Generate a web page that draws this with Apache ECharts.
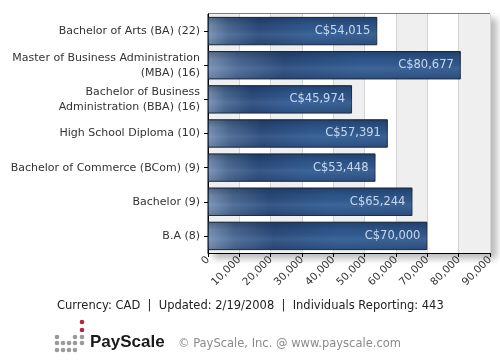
<!DOCTYPE html>
<html><head><meta charset="utf-8">
<script src="https://cdn.jsdelivr.net/npm/echarts@6/dist/echarts.min.js"></script>
<style>html,body{margin:0;padding:0;background:#fff}#c{width:500px;height:360px}</style>
</head><body><div id="c"></div>
<script>
const categories = [
  'Bachelor of Arts (BA) (22)',
  'Master of Business Administration\n(MBA) (16)',
  'Bachelor of Business\nAdministration (BBA) (16)',
  'High School Diploma (10)',
  'Bachelor of Commerce (BCom) (9)',
  'Bachelor (9)',
  'B.A (8)'
];
const salaries = [54015, 80677, 45974, 57391, 53448, 65244, 70000];
const xTicks = [0, 10000, 20000, 30000, 40000, 50000, 60000, 70000, 80000, 90000];
const footerText = 'Currency: CAD  |  Updated: 2/19/2008  |  Individuals Reporting: 443';
const copyrightText = '\u00A9 PayScale, Inc. @ www.payscale.com';
const logoText = 'PayScale';

const font = '"DejaVu Sans", Verdana, sans-serif';
const chart = echarts.init(document.getElementById('c'), null, {renderer: 'canvas'});

const dots = [];
const gray = '#9a9a9a', red = '#b0263a';
[[82,322,red],[82,330,red],
 [57,337,gray],[75,337,gray],[82,337,gray],
 [57,343,gray],[63,343,gray],[69,343,gray],[75,343,gray],[82,343,gray],
 [57,350,gray],[63,350,gray],[69,350,gray],[75,350,gray]
].forEach(d => dots.push({type:'circle', shape:{cx:d[0], cy:d[1], r:2.3}, style:{fill:d[2]}, silent:true}));

chart.setOption({
  animation: false,
  grid: {
    left: 208, right: 10, top: 14, bottom: 107,
    show: true, backgroundColor: '#fff', borderColor: '#000', borderWidth: 1,
    shadowColor: 'rgba(0,0,0,0.28)', shadowBlur: 7, shadowOffsetX: 6, shadowOffsetY: 5
  },
  xAxis: {
    type: 'value', min: 0, max: 90000, interval: 10000,
    axisLine: {show: true, lineStyle: {color: '#000', width: 1}},
    axisTick: {show: true, length: 4, lineStyle: {color: '#000'}},
    axisLabel: {
      rotate: 45, fontSize: 10.5, color: '#333', fontFamily: font, margin: 5,
      formatter: v => xTicks.includes(v) ? v.toLocaleString('en-US') : ''
    },
    splitLine: {show: true, lineStyle: {color: '#d4d4d4', width: 1}},
    splitArea: {show: true, areaStyle: {color: ['#efefef', '#ffffff']}}
  },
  yAxis: {
    type: 'category', data: categories, inverse: true,
    axisLine: {show: true, lineStyle: {color: '#000', width: 1}},
    axisTick: {show: true, length: 4, alignWithLabel: true, lineStyle: {color: '#000'}},
    axisLabel: {fontSize: 11, color: '#333', fontFamily: font, margin: 8, lineHeight: 15, align: 'right'},
    splitLine: {show: true, alignWithLabel: true, lineStyle: {color: '#cfcfcf', width: 1}}
  },
  series: [{
    type: 'bar', data: salaries, barWidth: '83%',
    itemStyle: {
      borderColor: '#1b2c46', borderWidth: 1,
      color: {type: 'linear', x: 0, y: 0, x2: 1, y2: 0, colorStops: [
        {offset: 0, color: '#7b93b4'},
        {offset: 0.12, color: '#4a6891'},
        {offset: 0.3, color: '#2a4a7a'},
        {offset: 0.6, color: '#30598f'},
        {offset: 1, color: '#2d5487'}
      ]}
    },
    label: {
      show: true, position: 'insideRight', distance: 7,
      color: '#cfe0f6', fontSize: 11.5, fontFamily: font,
      formatter: p => 'C$' + p.value.toLocaleString('en-US')
    },
    z: 2
  }, {
    type: 'bar', data: salaries, barWidth: '83%', barGap: '-100%', silent: true,
    itemStyle: {
      color: {type: 'linear', x: 0, y: 0, x2: 0, y2: 1, colorStops: [
        {offset: 0, color: 'rgba(10,25,50,0.35)'},
        {offset: 0.3, color: 'rgba(10,25,50,0.05)'},
        {offset: 0.6, color: 'rgba(160,190,230,0.12)'},
        {offset: 1, color: 'rgba(10,25,50,0.15)'}
      ]}
    },
    z: 3
  }],
  graphic: [
    {type: 'text', left: 57, top: 300, style: {text: footerText, font: '11.5px ' + font, fill: '#222'}},
    {type: 'text', left: 90, top: 334, style: {text: logoText, font: 'bold 17px "Liberation Sans", Arial, sans-serif', fill: '#1a1a1a'}},
    {type: 'text', left: 178, top: 338, style: {text: copyrightText, font: '11.5px ' + font, fill: '#8a8a8a'}}
  ].concat(dots)
});
</script>
</body></html>
